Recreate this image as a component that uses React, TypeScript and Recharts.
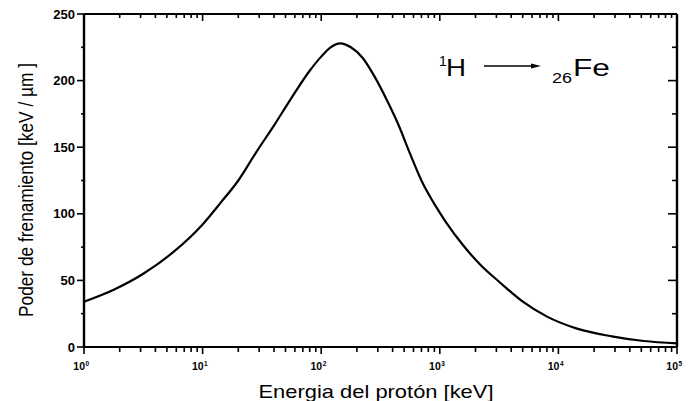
import { LineChart, Line, XAxis, YAxis } from 'recharts';

// proton energy (keV) and stopping power (keV/um)
const energy = [1, 1.78, 3.16, 5.62, 10, 14.1, 20, 28.2, 39.8, 56.2, 79.4, 100, 120, 145, 178, 224, 282, 355, 447, 562, 708, 891, 1122, 1585, 2239, 3162, 5012, 7943, 14125, 28184, 52481, 100000];
const stopping = [34, 43, 55, 71, 92, 108, 125, 146, 166, 187, 207, 218, 225, 228, 225, 217, 203, 186, 167, 145, 124, 108, 94, 76, 61, 49, 34, 23, 14, 8, 4.5, 2.7];

const xMajor = [1, 10, 100, 1000, 10000, 100000];
const xMinorSteps = [2, 3, 4, 5, 6, 7, 8, 9];
const yTicks = [0, 25, 50, 75, 100, 125, 150, 175, 200, 225, 250];
const yMajor = [0, 50, 100, 150, 200, 250];

const xTicks: number[] = [];
xMajor.forEach((d, i) => {
  xTicks.push(d);
  if (i < xMajor.length - 1) xMinorSteps.forEach((m) => xTicks.push(m * d));
});

const data = energy.map((e, i) => ({ e, s: stopping[i] }));

const font = 'Arial, "Liberation Sans", Helvetica, sans-serif';

// plot box, same as chart margins + axis sizes below
const W = 688;
const H = 401;
const box = { left: 84, right: W - 11, top: 14, bottom: H - 54 };
const px = (v: number) => box.left + (Math.log10(v) / 5) * (box.right - box.left);
const py = (v: number) => box.bottom - (v / 250) * (box.bottom - box.top);

const BottomTick = (props: any) => {
  const { x, y, payload } = props;
  if (!xMajor.includes(payload.value)) return <g />;
  const exp = String(Math.round(Math.log10(payload.value)));
  return (
    <g>
      <text x={x + 1} y={y + 23} textAnchor="end" fontSize={10.5}>10</text>
      <text x={x + 1.5} y={y + 19} textAnchor="start" fontSize={6.5}>{exp}</text>
    </g>
  );
};

const LeftTick = (props: any) => {
  const { x, y, payload } = props;
  if (!yMajor.includes(payload.value)) return <g />;
  return <text x={x - 9} y={y + 4.5} textAnchor="end" fontSize={13}>{String(payload.value)}</text>;
};

// frame and tick marks on all four sides
const Frame = () => (
  <g stroke="#000" fill="none">
    <path d={`M${box.left},${box.top}H${box.right}`} strokeWidth={1.8} />
    <path d={`M${box.right},${box.top}V${box.bottom}`} strokeWidth={2.4} />
    {xTicks.map((v) => {
      const major = xMajor.includes(v);
      const x = px(v);
      return (
        <g key={`x${v}`} strokeWidth={1.6}>
          <path d={`M${x},${box.bottom}V${box.bottom + (major ? 7 : 5)}`} />
          <path d={`M${x},${box.top}V${box.top + (major ? 7 : 4)}`} />
        </g>
      );
    })}
    {yTicks.map((v) => {
      const major = yMajor.includes(v);
      const y = py(v);
      return (
        <g key={`y${v}`} strokeWidth={1.6}>
          <path d={`M${box.left},${y}H${box.left - (major ? 7 : 3)}`} />
          <path d={`M${box.right},${y}H${box.right - (major ? 9 : 5)}`} />
        </g>
      );
    })}
  </g>
);

export default function App() {
  return (
    <div style={{ position: 'absolute', left: 0, top: 0, width: W, height: H, background: '#fff', fontFamily: font, fontWeight: 'bold' }}>
      <LineChart width={W} height={H} data={data} margin={{ top: 14, right: 11, left: 0, bottom: 0 }}>
        <XAxis dataKey="e" type="number" scale="log" domain={[1, 100000]} ticks={xTicks} interval={0} height={54} tickSize={0} tickMargin={0} tickLine={false} tick={<BottomTick />} axisLine={{ stroke: '#000', strokeWidth: 2.2 }} />
        <YAxis domain={[0, 250]} ticks={yTicks} interval={0} width={84} tickSize={0} tickMargin={0} tickLine={false} tick={<LeftTick />} axisLine={{ stroke: '#000', strokeWidth: 2.4 }} />
        <Line dataKey="s" type="monotone" stroke="#000" strokeWidth={2.2} dot={false} isAnimationActive={false} />
      </LineChart>
      <svg width={W} height={H} style={{ position: 'absolute', left: 0, top: 0, pointerEvents: 'none' }}>
        <Frame />
        <g fill="#000" fontFamily={font} fontWeight="normal">
          <text x={376} y={398} textAnchor="middle" fontSize={19} textLength={235} lengthAdjust="spacingAndGlyphs">
            Energia del protón  [keV]
          </text>
          <text transform="translate(33,190) rotate(-90)" textAnchor="middle" fontSize={20} textLength={254} lengthAdjust="spacingAndGlyphs">
            Poder de frenamiento  [keV / µm ]
          </text>
          <text x={439} y={66} fontSize={14}>1</text>
          <text x={446} y={76} fontSize={24} textLength={20} lengthAdjust="spacingAndGlyphs">H</text>
          <path d="M484,66H532" stroke="#000" strokeWidth={1.4} />
          <polygon points="541,66 531,63.5 531,68.5" fill="#000" />
          <text x={552} y={83} fontSize={14} textLength={20} lengthAdjust="spacingAndGlyphs">26</text>
          <text x={573} y={76} fontSize={24} textLength={37} lengthAdjust="spacingAndGlyphs">Fe</text>
        </g>
      </svg>
    </div>
  );
}
